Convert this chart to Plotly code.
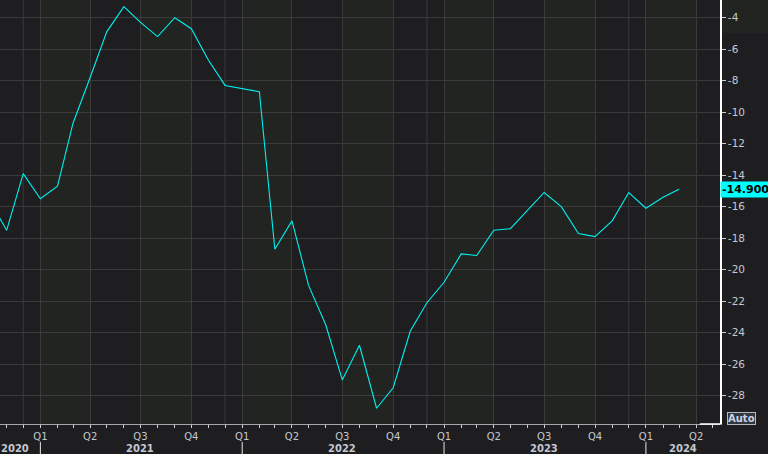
import plotly.graph_objects as go

# monthly readings, first of month
months = [
    "2020-10-01", "2020-11-01", "2020-12-01",
    "2021-01-01", "2021-02-01", "2021-03-01", "2021-04-01", "2021-05-01", "2021-06-01",
    "2021-07-01", "2021-08-01", "2021-09-01", "2021-10-01", "2021-11-01", "2021-12-01",
    "2022-01-01", "2022-02-01", "2022-03-01", "2022-04-01", "2022-05-01", "2022-06-01",
    "2022-07-01", "2022-08-01", "2022-09-01", "2022-10-01", "2022-11-01", "2022-12-01",
    "2023-01-01", "2023-02-01", "2023-03-01", "2023-04-01", "2023-05-01", "2023-06-01",
    "2023-07-01", "2023-08-01", "2023-09-01", "2023-10-01", "2023-11-01", "2023-12-01",
    "2024-01-01", "2024-02-01", "2024-03-01",
]
values = [
    -15.6, -17.5, -13.9,
    -15.5, -14.7, -10.7, -7.8, -4.9, -3.3,
    -4.3, -5.2, -4.0, -4.7, -6.7, -8.3,
    -8.5, -8.7, -18.7, -16.9, -21.0, -23.5,
    -27.0, -24.8, -28.8, -27.5, -23.9, -22.1,
    -20.8, -19.0, -19.1, -17.5, -17.4, -16.2,
    -15.1, -16.0, -17.7, -17.9, -16.9, -15.1,
    -16.1, -15.4, -14.9,
]
last_label = "-14.900"

y_ticks = [-4, -6, -8, -10, -12, -14, -16, -18, -20, -22, -24, -26, -28]
y_text = ["-4", "-6", "-8", "-10", "-12", "-14", "-16", "-18", "-20", "-22", "-24", "-26", "-28"]

quarter_ticks = [
    "2021-01-01", "2021-04-01", "2021-07-01", "2021-10-01",
    "2022-01-01", "2022-04-01", "2022-07-01", "2022-10-01",
    "2023-01-01", "2023-04-01", "2023-07-01", "2023-10-01",
    "2024-01-01", "2024-04-01",
]
quarter_text = ["Q1", "Q2", "Q3", "Q4"] * 3 + ["Q1", "Q2"]
years = ["2020", "2021", "2022", "2023", "2024"]
year_pos = ["2020-11-16", "2021-07-01", "2022-07-01", "2023-07-01", "2024-03-08"]
year_starts = ["2021-01-01", "2022-01-01", "2023-01-01", "2024-01-01"]
dec_lines = ["2020-12-01", "2021-12-01", "2022-12-01", "2023-12-01"]
# Q1 / Q3 shaded bands
bands = [
    ("2021-01-01", "2021-04-01"), ("2021-07-01", "2021-10-01"),
    ("2022-01-01", "2022-04-01"), ("2022-07-01", "2022-10-01"),
    ("2023-01-01", "2023-04-01"), ("2023-07-01", "2023-10-01"),
    ("2024-01-01", "2024-04-01"),
]

BG = "#1e1e21"
BAND = "#212420"
GRID = "#3a3a3a"
TXT = "#c4c8d2"
FONT = "DejaVu Sans"

fig = go.Figure()
fig.add_trace(go.Scatter(
    x=months, y=values, mode="lines",
    line=dict(color="#00f0f0", width=1.1),
    hoverinfo="x+y", showlegend=False,
))

shapes = []
for a, b in bands:
    shapes.append(dict(type="rect", xref="x", yref="paper", x0=a, x1=b, y0=0, y1=1,
                       fillcolor=BAND, line_width=0, layer="below"))
for d in dec_lines:
    shapes.append(dict(type="line", xref="x", yref="paper", x0=d, x1=d, y0=0, y1=1,
                       line=dict(color=GRID, width=1), layer="below"))
for d in year_starts:
    shapes.append(dict(type="line", xref="x", yref="paper", x0=d, x1=d, y0=-0.042, y1=-0.08,
                       line=dict(color="#e8e8e8", width=1)))
# white corner of the frame and the shaded patch behind the top label
shapes.append(dict(type="line", xref="paper", yref="paper", x0=0.972, x1=1, y0=0, y1=0,
                   line=dict(color="#ffffff", width=1.5)))
shapes.append(dict(type="rect", xref="paper", yref="paper", x0=1.002, x1=1.07, y0=0.922, y1=1,
                   fillcolor=BAND, line_width=0, layer="below"))

annotations = []
for yr, pos in zip(years, year_pos):
    annotations.append(dict(x=pos, y=-0.057, xref="x", yref="paper", text="<b>%s</b>" % yr,
                            showarrow=False, yanchor="middle",
                            font=dict(family=FONT, size=10, color=TXT)))
annotations.append(dict(x=1.0, y=values[-1], xref="paper", yref="y", text="<b>%s</b>" % last_label,
                        showarrow=False, xanchor="left", yanchor="middle", bgcolor="#00ffff",
                        borderpad=1, font=dict(family=FONT, size=11, color="#000000")))
annotations.append(dict(x=1.01, y=0.014, xref="paper", yref="paper", text="<b>Auto</b>",
                        showarrow=False, xanchor="left", yanchor="middle", bgcolor="#34363e",
                        bordercolor="#b8b8c0", borderwidth=1, borderpad=0,
                        font=dict(family=FONT, size=10, color="#c8d4e8")))

fig.update_layout(
    width=768, height=454,
    margin=dict(l=0, r=48, t=0, b=30, autoexpand=False),
    paper_bgcolor=BG, plot_bgcolor=BG,
    font=dict(family=FONT, size=10, color=TXT),
    shapes=shapes, annotations=annotations,
    showlegend=False,
    xaxis=dict(
        range=["2020-10-20", "2024-05-14"],
        automargin=False,
        tickmode="array", tickvals=quarter_ticks, ticktext=quarter_text,
        ticks="outside", ticklen=3, tickcolor="#d0d0d0",
        showgrid=True, gridcolor=GRID, gridwidth=1,
        showline=True, linecolor="#a8a8a8", linewidth=1,
        zeroline=False,
        minor=dict(dtick="M1", tick0="2020-01-01", ticks="outside", ticklen=3,
                   tickcolor="#d0d0d0", showgrid=False),
        tickfont=dict(family=FONT, size=10, color=TXT),
    ),
    yaxis=dict(
        side="right", range=[-29.8, -2.876],
        automargin=False,
        tickmode="array", tickvals=y_ticks, ticktext=y_text,
        ticks="outside", ticklen=4, tickcolor="#d0d0d0",
        showgrid=True, gridcolor=GRID, gridwidth=1,
        showline=True, linecolor="#ffffff", linewidth=1.5,
        zeroline=False,
        tickfont=dict(family=FONT, size=10.5, color=TXT),
    ),
)

# page body has a default 8px margin; drop it so the chart fills the window
fig.write_html("out.html", config={"displayModeBar": False},
               post_script="document.body.style.margin='0';")
